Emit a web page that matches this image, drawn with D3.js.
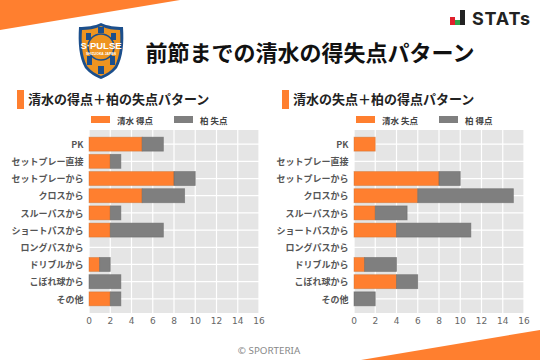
<!DOCTYPE html>
<html>
<head>
<meta charset="utf-8">
<script src="https://d3js.org/d3.v7.min.js"></script>
<style>
html, body { margin: 0; padding: 0; background: #fff; }
svg { display: block; }
text { font-family: "Noto Sans CJK JP", sans-serif; }
</style>
</head>
<body>
<div id="chart"></div>
<script>
const categories = ["PK", "セットプレー直接", "セットプレーから", "クロスから", "スルーパスから", "ショートパスから", "ロングパスから", "ドリブルから", "こぼれ球から", "その他"]
const xTicks = [0, 2, 4, 6, 8, 10, 12, 14, 16]

const leftOrange = [5, 2, 8, 5, 2, 2, 0, 1, 0, 2]
const leftGrey = [2, 1, 2, 4, 1, 5, 0, 1, 3, 1]
const rightOrange = [2, 0, 8, 6, 2, 4, 0, 1, 4, 0]
const rightGrey = [0, 0, 2, 9, 3, 7, 0, 3, 2, 2]

const orange = "#ff7f2f"
const grey = "#7f7f7f"
const crestBlue = "#1c4f8c"
const crestOrange = "#ee9420"

const svg = d3.select("#chart").append("svg")
    .attr("width", 540)
    .attr("height", 360)

// corner decorations
svg.append("path").attr("d", "M0,0 L180,0 L0,30 Z").attr("fill", orange)
svg.append("path").attr("d", "M540,330 L540,360 L361,360 Z").attr("fill", orange)

// title
svg.append("text")
    .attr("x", 310).attr("y", 61)
    .attr("text-anchor", "middle")
    .attr("font-size", 22)
    .attr("font-weight", 700)
    .attr("fill", "#111")
    .text("前節までの清水の得失点パターン")

// club crest
const crest = svg.append("g").attr("transform", "translate(79,23)")
crest.append("path")
    .attr("d", "M22,0 C28,3 37,4 44,4 C45,20 44,34 38,45 C33,51 27,54 22,56 C17,54 11,51 6,45 C0,34 -1,20 0,4 C7,4 16,3 22,0 Z")
    .attr("fill", crestBlue)
crest.append("path")
    .attr("d", "M22,3 C28,6 35,7 41,7 C42,20 41,33 36,43 C32,48 27,51 22,53 C17,51 12,48 8,43 C3,33 2,20 3,7 C9,7 16,6 22,3 Z")
    .attr("fill", crestOrange)
crest.append("rect").attr("x", 19).attr("y", 4).attr("width", 6).attr("height", 6).attr("fill", crestBlue)
crest.append("rect").attr("x", 7).attr("y", 10).attr("width", 5).attr("height", 7).attr("fill", crestBlue)
crest.append("rect").attr("x", 32).attr("y", 10).attr("width", 5).attr("height", 7).attr("fill", crestBlue)
crest.append("rect").attr("x", 8).attr("y", 33).attr("width", 5).attr("height", 9).attr("fill", crestBlue)
crest.append("rect").attr("x", 31).attr("y", 33).attr("width", 5).attr("height", 9).attr("fill", crestBlue)
crest.append("rect").attr("x", 19).attr("y", 43).attr("width", 6).attr("height", 8).attr("fill", crestBlue)
crest.append("circle").attr("cx", 22).attr("cy", 24).attr("r", 13)
    .attr("fill", "none").attr("stroke", crestBlue).attr("stroke-width", 1.6)
crest.append("text").attr("x", 22).attr("y", 25.5)
    .attr("text-anchor", "middle")
    .attr("font-size", 9.5).attr("font-weight", 700)
    .attr("fill", "#fff")
    .style("font-family", "'Liberation Sans', sans-serif")
    .text("S·PULSE")
crest.append("text").attr("x", 22).attr("y", 32)
    .attr("text-anchor", "middle")
    .attr("font-size", 3.4).attr("font-weight", 700)
    .attr("fill", "#fff")
    .style("font-family", "'Liberation Sans', sans-serif")
    .text("SHIZUOKA JAPAN")

// STATs logo
const statsLogo = svg.append("g")
statsLogo.append("rect").attr("x", 450).attr("y", 17).attr("width", 5).attr("height", 8).attr("fill", "#e0202c")
statsLogo.append("rect").attr("x", 455).attr("y", 20).attr("width", 5).attr("height", 5).attr("fill", "#2ea24a")
statsLogo.append("rect").attr("x", 460).attr("y", 10).attr("width", 5).attr("height", 15).attr("fill", "#222")
statsLogo.append("text")
    .attr("x", 472).attr("y", 24.5)
    .attr("font-size", 18)
    .attr("font-weight", 700)
    .attr("letter-spacing", 0.8)
    .style("font-family", "Inter, sans-serif")
    .attr("fill", "#222")
    .text("STATs")

// copyright
svg.append("text")
    .attr("x", 269).attr("y", 354)
    .attr("text-anchor", "middle")
    .attr("font-size", 9.8)
    .style("font-family", "'Noto Sans', sans-serif")
    .attr("fill", "#888")
    .text("© SPORTERIA")

function drawPanel(left, right, heading, orangeName, greyName, orangeValues, greyValues){
    const panel = svg.append("g")

    panel.append("rect")
        .attr("x", left - 72).attr("y", 90)
        .attr("width", 7).attr("height", 19)
        .attr("fill", orange)
    panel.append("text")
        .attr("x", left - 61).attr("y", 104)
        .attr("font-size", 13)
        .attr("font-weight", 700)
        .attr("fill", "#222")
        .text(heading)

    // legend
    panel.append("rect").attr("x", left + 2).attr("y", 116).attr("width", 19).attr("height", 7).attr("fill", orange)
    panel.append("text").attr("x", left + 28).attr("y", 124)
        .attr("font-size", 8.5).attr("font-weight", 700).attr("fill", "#444")
        .text(orangeName)
    panel.append("rect").attr("x", left + 85).attr("y", 116).attr("width", 19).attr("height", 7).attr("fill", grey)
    panel.append("text").attr("x", left + 111).attr("y", 124)
        .attr("font-size", 8.5).attr("font-weight", 700).attr("fill", "#444")
        .text(greyName)

    const x = d3.scaleLinear([0, 16], [left, right])
    const y = d3.scaleBand(categories, [130, 313]).paddingInner(0.186).paddingOuter(0.416)

    panel.append("rect")
        .attr("x", left).attr("y", 130)
        .attr("width", right - left).attr("height", 183)
        .attr("fill", "#e5e5e5")

    panel.selectAll(".vGrid").data(xTicks).enter()
        .append("line")
        .attr("x1", d => x(d)).attr("x2", d => x(d))
        .attr("y1", 130).attr("y2", 313)
        .attr("stroke", "#fff").attr("stroke-width", 1.2)

    panel.selectAll(".hGrid").data(categories).enter()
        .append("line")
        .attr("x1", left).attr("x2", right)
        .attr("y1", d => y(d) + y.bandwidth() / 2)
        .attr("y2", d => y(d) + y.bandwidth() / 2)
        .attr("stroke", "#fff").attr("stroke-width", 1.2)

    // stacked bars
    panel.selectAll(".orangeBar").data(categories).enter()
        .append("rect")
        .attr("x", left)
        .attr("y", d => y(d))
        .attr("width", (d, i) => x(orangeValues[i]) - left)
        .attr("height", y.bandwidth())
        .attr("fill", orange)
        .attr("stroke", "#c8702f")
        .attr("stroke-opacity", 0.5)
        .attr("stroke-width", 0.8)

    panel.selectAll(".greyBar").data(categories).enter()
        .append("rect")
        .attr("x", (d, i) => x(orangeValues[i]))
        .attr("y", d => y(d))
        .attr("width", (d, i) => x(greyValues[i]) - left)
        .attr("height", y.bandwidth())
        .attr("fill", grey)
        .attr("stroke", "#666")
        .attr("stroke-opacity", 0.6)
        .attr("stroke-width", 0.8)

    const yAxis = d3.axisLeft(y).tickSize(0).tickPadding(5.5)
    const yG = panel.append("g").attr("transform", "translate(" + left + ",0.8)").call(yAxis)
    yG.select(".domain").remove()
    yG.selectAll("text")
        .attr("font-size", 9)
        .attr("font-weight", 700)
        .attr("fill", "#555")
        .style("font-family", "'Noto Sans CJK JP', sans-serif")

    const xAxis = d3.axisBottom(x).tickValues(xTicks).tickSize(0).tickPadding(5)
    const xG = panel.append("g").attr("transform", "translate(-0.5,313)").call(xAxis)
    xG.select(".domain").remove()
    xG.selectAll("text")
        .attr("font-size", 9)
        .attr("fill", "#666")
        .style("font-family", "'DejaVu Sans', sans-serif")
}

drawPanel(89, 259, "清水の得点＋柏の失点パターン", "清水 得点", "柏 失点", leftOrange, leftGrey)
drawPanel(354, 524, "清水の失点＋柏の得点パターン", "清水 失点", "柏 得点", rightOrange, rightGrey)
</script>
</body>
</html>
